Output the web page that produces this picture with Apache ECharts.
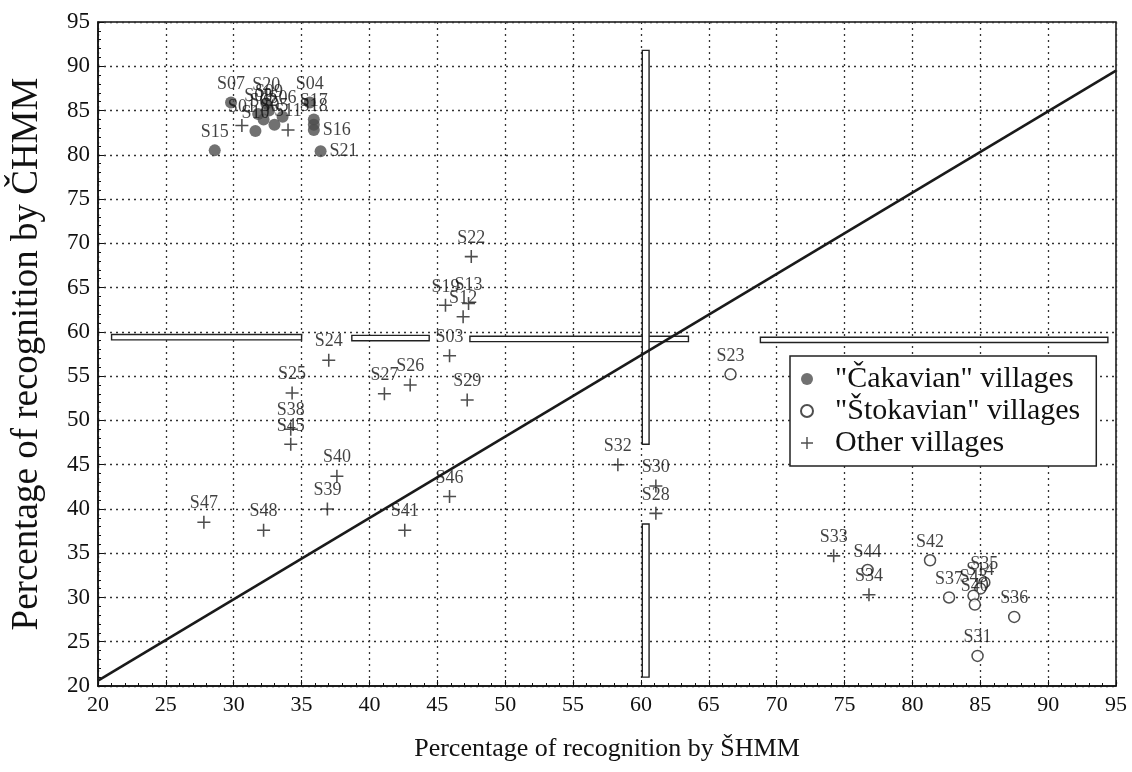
<!DOCTYPE html>
<html><head><meta charset="utf-8">
<script src="https://cdn.jsdelivr.net/npm/echarts@6/dist/echarts.min.js"></script>
<style>html,body{margin:0;padding:0;background:#fff}#c{width:1132px;height:772px}</style>
</head><body><div id="c"></div>
<script>
// "Čakavian" villages (filled circles)
const cakNames = ['S07','S20','S09','S08','S02','S05','S10','S06','S04','S17','S18','S16','S21','S15'];
const cakX     = [29.8, 32.4, 32.6, 31.8, 32.2, 33.0, 31.6, 33.6, 35.6, 35.9, 35.9, 35.9, 36.4, 28.6];
const cakY     = [85.9, 85.8, 85.0, 84.6, 84.0, 83.4, 82.7, 84.3, 85.9, 84.0, 83.4, 82.8, 80.4, 80.5];

// "Štokavian" villages (open circles)
const stoNames = ['S23','S44','S42','S37','S35','S14','S43','S40x','S36','S31'];
const stoX     = [66.6, 76.7, 81.3, 82.7, 85.3, 85.0, 84.5, 84.6, 87.5, 84.8];
const stoY     = [55.2, 33.1, 34.2, 30.0, 31.7, 31.0, 30.2, 29.2, 27.8, 23.4];

// Other villages (crosses)
const othNames = ['S01','S11','S22','S19','S13','S12','S03','S24','S25','S38','S45','S27','S26','S29','S40','S39','S46','S47','S48','S41','S32','S30','S28','S33','S34'];
const othX     = [30.6, 34.0, 47.5, 45.6, 47.3, 46.9, 45.9, 37.0, 34.3, 34.2, 34.2, 41.1, 43.0, 47.2, 37.6, 36.9, 45.9, 27.8, 32.2, 42.6, 58.3, 61.1, 61.1, 74.2, 76.8];
const othY     = [83.3, 82.8, 68.5, 63.0, 63.2, 61.7, 57.3, 56.8, 53.1, 49.0, 47.3, 53.0, 54.0, 52.3, 43.7, 40.0, 41.4, 38.5, 37.6, 37.6, 45.0, 42.6, 39.5, 34.7, 30.3];

// fitted line end points
const lineX = [20, 95];
const lineY = [20.6, 89.5];

// boundary bars [x1, x2, y1, y2]
const bars = [
  [21.0, 35.0, 59.1, 59.7],
  [38.7, 44.4, 59.0, 59.6],
  [47.4, 63.5, 58.9, 59.5],
  [68.8, 94.4, 58.8, 59.4],
  [60.1, 60.6, 47.3, 91.8],
  [60.1, 60.6, 21.0, 38.3]
];

const labelRight = ['S16','S21'];
const serif = 'Liberation Serif';
const crossPath = 'path://M4.4,0h1.2v4.4h4.4v1.2h-4.4v4.4h-1.2v-4.4h-4.4v-1.2h4.4z';

function mk(names, xs, ys){
  return names.map((n,i)=>{
    const o = {value:[xs[i], ys[i]], name:n.replace('x','')};
    if (labelRight.includes(n)) o.label = {position:'right', distance:3};
    return o;
  });
}
const lbl = {show:true, position:'top', distance:3, formatter:p=>p.name,
             fontFamily:serif, fontSize:18, color:'#111'};

const chart = echarts.init(document.getElementById('c'));
chart.setOption({
  animation:false,
  backgroundColor:'#fff',
  grid:{left:98, right:16, top:22, bottom:86, show:true, borderColor:'#111', borderWidth:1.5, backgroundColor:'transparent'},
  xAxis:{type:'value', min:20, max:95, interval:5,
    name:'Percentage of recognition by ŠHMM', nameLocation:'middle', nameGap:50,
    nameTextStyle:{fontFamily:serif, fontSize:26, color:'#111'},
    axisLine:{show:true, lineStyle:{color:'#111', width:1.5}},
    axisTick:{show:true, inside:true, length:6, lineStyle:{color:'#111'}},
    minorTick:{show:true, splitNumber:5, length:3, lineStyle:{color:'#111'}},
    axisLabel:{fontFamily:serif, fontSize:22, color:'#111', margin:8},
    splitLine:{show:true, lineStyle:{type:[2,4], color:'#333', width:1.3}}
  },
  yAxis:{type:'value', min:20, max:95, interval:5,
    name:'Percentage of recognition by ČHMM', nameLocation:'middle', nameGap:52,
    nameTextStyle:{fontFamily:serif, fontSize:37, color:'#111'},
    axisLine:{show:true, lineStyle:{color:'#111', width:1.5}},
    axisTick:{show:true, inside:true, length:6, lineStyle:{color:'#111'}},
    minorTick:{show:true, splitNumber:5, length:3, lineStyle:{color:'#111'}},
    axisLabel:{fontFamily:serif, fontSize:23, color:'#111', margin:8},
    splitLine:{show:true, lineStyle:{type:[2,4], color:'#333', width:1.3}}
  },
  legend:{orient:'vertical', left:790, top:356, backgroundColor:'#fff',
    borderColor:'#222', borderWidth:1.5, padding:[8,16,8,10], itemGap:2,
    itemWidth:14, itemHeight:12,
    textStyle:{fontFamily:serif, fontSize:30, color:'#111', padding:[0,0,0,16]},
    data:['"Čakavian" villages','"Štokavian" villages','Other villages']},
  series:[
    {type:'custom', name:'bars', z:2, silent:true,
     encode:{x:[0,1], y:[2,3]},
     data:bars,
     renderItem:(params, api)=>{
       const p1 = api.coord([api.value(0), api.value(3)]);
       const p2 = api.coord([api.value(1), api.value(2)]);
       return {type:'rect', shape:{x:p1[0], y:p1[1], width:p2[0]-p1[0], height:p2[1]-p1[1]},
               style:{fill:'#fff', stroke:'#222', lineWidth:1.4}};
     }},
    {type:'line', name:'fit', z:3, silent:true, symbol:'none',
     data:lineX.map((x,i)=>[x, lineY[i]]),
     lineStyle:{color:'#1a1a1a', width:2.6}},
    {type:'scatter', name:'"Čakavian" villages', z:5, symbol:'circle', symbolSize:12,
     itemStyle:{color:'#4d4d4d'}, label:lbl, data:mk(cakNames,cakX,cakY)},
    {type:'scatter', name:'"Štokavian" villages', z:5, symbol:'circle', symbolSize:11,
     itemStyle:{color:'#fff', borderColor:'#222', borderWidth:1.5}, label:lbl, data:mk(stoNames,stoX,stoY)},
    {type:'scatter', name:'Other villages', z:5, symbol:crossPath, symbolSize:13,
     itemStyle:{color:'#222'}, label:lbl, data:mk(othNames,othX,othY)}
  ]
});
</script></body></html>
